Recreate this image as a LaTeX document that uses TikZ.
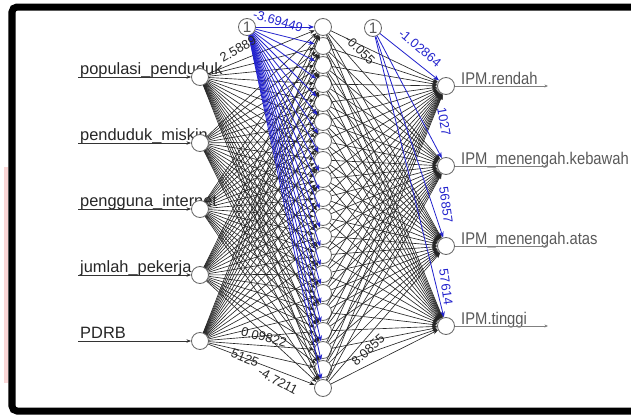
\documentclass[tikz,border=0pt]{standalone}
\usepackage{fontspec}
\setmainfont{Liberation Sans}
\newfontfamily\narrowfont{Liberation Sans}[FakeStretch=0.87]
\usepackage{xcolor}
\usetikzlibrary{arrows.meta}
\definecolor{biasblue}{RGB}{35,35,205}
\definecolor{edgepink}{RGB}{250,214,214}

\begin{document}
\begin{tikzpicture}[x=0.03cm, y=-0.03cm,
    neuron/.style={draw=black!60, circle, fill=white, line width=0.7pt, minimum size=0.51cm, inner sep=0pt},
    wire/.style={black!85, line width=0.55pt, -{Stealth[length=4.5pt, width=3.5pt]}},
    biaswire/.style={biasblue, line width=0.7pt, -{Stealth[length=5pt, width=4pt]}},
    inlabel/.style={anchor=base west, inner sep=0pt, text=black!85, font=\fontsize{14}{16}\selectfont},
    outlabel/.style={anchor=base west, inner sep=0pt, text=black!65, font=\narrowfont\fontsize{14.5}{16}\selectfont},
    weight/.style={inner sep=0pt, font=\fontsize{11}{12}\selectfont}]
    \useasboundingbox (0,0) rectangle (631,417);

    % frame
    \fill[edgepink] (4,167) rectangle (8,383);
    \draw[line width=0.21cm, rounded corners=0.15cm] (660,7) -- (12,7) -- (12,411) -- (660,411);

    % input layer
    \foreach \lab [count=\i] in {populasi\_penduduk, penduduk\_miskin, pengguna\_internet, jumlah\_pekerja, PDRB} {
        \coordinate (s\i) at (78, {77+66*(\i-1)});
        \node[inlabel] (t\i) at (80, {74+66*(\i-1)}) {\lab};
        \node[neuron] (in\i) at (200, {77+66*(\i-1)}) {};
    }

    % hidden layer
    \foreach \j in {1,...,20}
        \node[neuron] (h\j) at (323, {27+19*(\j-1)}) {};

    % output layer
    \foreach \lab [count=\k] in {IPM.rendah, IPM\_menengah.kebawah, IPM\_menengah.atas, IPM.tinggi} {
        \node[neuron] (o\k) at (446, {86+80*(\k-1)}) {};
        \coordinate (e\k) at (548, {86+80*(\k-1)});
        \node[outlabel] (u\k) at (461, {84+80*(\k-1)}) {\lab};
    }

    % bias nodes
    \node[neuron, text=black!65, font=\fontsize{13}{13}\selectfont] (b1) at (247, 27) {1};
    \node[neuron, text=black!65, font=\fontsize{13}{13}\selectfont] (b2) at (373, 28) {1};

    % weights
    \foreach \i in {1,...,5}
        \foreach \j in {1,...,20}
            \draw[wire] (in\i) -- (h\j);
    \foreach \j in {1,...,20}
        \draw[biaswire] (b1) -- (h\j);
    \foreach \j in {1,...,20}
        \foreach \k in {1,...,4}
            \draw[wire] (h\j) -- (o\k);
    \foreach \k in {1,...,4}
        \draw[biaswire] (b2) -- (o\k);

    % in and out arrows
    \foreach \i in {1,...,5}
        \draw[black!80, line width=0.6pt, -{Stealth[length=4pt, width=3pt]}] (s\i) -- (in\i);
    \foreach \k in {1,...,4}
        \draw[black!50, line width=0.5pt, -{Stealth[length=3pt, width=2.5pt]}] (o\k) -- (e\k);

    % readable weight values
    \node[weight, biasblue, rotate=-15] (w1) at (278, 21) {-3.69449};
    \node[weight, black!85, rotate=30] (w2) at (238, 49) {2.5889};
    \node[weight, biasblue, rotate=-40] (w3) at (420, 48) {-1.02864};
    \node[weight, biasblue, rotate=-80] (w4) at (444, 122) {1027};
    \node[weight, biasblue, rotate=-82] (w5) at (446, 205) {56857};
    \node[weight, biasblue, rotate=-82] (w6) at (446, 287) {57614};
    \node[weight, black!85, rotate=-45] (w7) at (360, 50) {-0.055};
    \node[weight, black!85, rotate=-15] (w8) at (264, 337) {0.09822};
    \node[weight, black!85, rotate=-22] (w9) at (245, 358) {5125};
    \node[weight, black!85, rotate=-28] (w10) at (278, 381) {-4.7211};
    \node[weight, black!85, rotate=42] (w11) at (368, 350) {8.0855};
\end{tikzpicture}
\end{document}
